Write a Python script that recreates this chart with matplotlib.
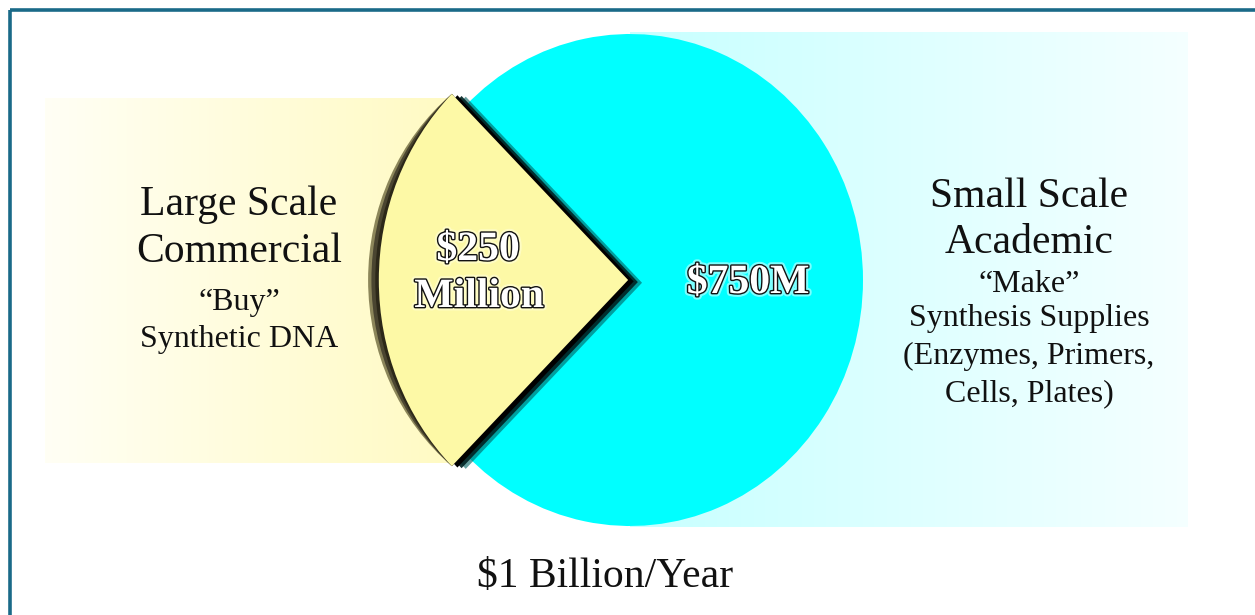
import matplotlib.pyplot as plt
import matplotlib.patheffects as pe
from matplotlib.patches import Rectangle, Wedge
import numpy as np

# market split, $ millions per year
segments = ['Large Scale Commercial', 'Small Scale Academic']
values = [250, 750]
colors = ['#fdf9a6', '#00ffff']
total_label = '$1 Billion/Year'

left_lines = ['Large Scale', 'Commercial', '\u201cBuy\u201d', 'Synthetic DNA']
right_lines = ['Small Scale', 'Academic', '\u201cMake\u201d', 'Synthesis Supplies',
               '(Enzymes, Primers,', 'Cells, Plates)']

W, H = 1255, 615
fig = plt.figure(figsize=(W / 100, H / 100), dpi=100)
plt.rcParams['font.family'] = ['Liberation Serif', 'DejaVu Serif']


def pixel_axes(z):
    ax = fig.add_axes([0, 0, 1, 1], zorder=z)
    ax.set_xlim(0, W)
    ax.set_ylim(H, 0)
    ax.axis('off')
    ax.patch.set_alpha(0)
    return ax


# background layer: soft gradient panels behind each side
bg = pixel_axes(0)
g = np.linspace(0, 1, 256).reshape(1, -1)
yellow_grad = np.zeros((1, 256, 3))
yellow_grad[..., 0] = 1.0
yellow_grad[..., 1] = 1.0 - 0.02 * g
yellow_grad[..., 2] = 0.96 - 0.20 * g
bg.imshow(yellow_grad, extent=(45, 462, 463, 98), aspect='auto')

cyan_grad = np.zeros((1, 256, 3))
cyan_grad[..., 0] = 0.78 + 0.18 * g
cyan_grad[..., 1] = 1.0
cyan_grad[..., 2] = 1.0
bg.imshow(cyan_grad, extent=(630, 1188, 527, 32), aspect='auto')

# pie, slightly squeezed horizontally
cx, cy, rx, ry = 630, 280, 233, 246
pie_ax = fig.add_axes([(cx - rx) / W, (H - cy - ry) / H, 2 * rx / W, 2 * ry / H], zorder=1)
pie_ax.patch.set_alpha(0)
wedges, _ = pie_ax.pie(values, colors=colors, startangle=135, counterclock=True,
                       radius=1.0, wedgeprops=dict(linewidth=0))
pie_ax.set_xlim(-1, 1)
pie_ax.set_ylim(-1, 1)
pie_ax.set_aspect('auto')
pie_ax.axis('off')
for w in wedges:
    w.set_clip_on(False)

small = wedges[0]
small.set_radius(1.07)
small.set_center((-0.008, 0))
small.set_zorder(3)
small.set_path_effects([
    pe.SimplePatchShadow(offset=(10, -2), shadow_rgbFace='#006060', alpha=0.6),
    pe.SimplePatchShadow(offset=(7, -1.5), shadow_rgbFace='#002222', alpha=0.9),
    pe.SimplePatchShadow(offset=(4, -1), shadow_rgbFace='black', alpha=1.0),
    pe.Normal(),
])

# rim under the curved edge: same corners, bulging further out
r0 = small.r
(sx, sy) = small.center
half = np.radians((small.theta2 - small.theta1) / 2)
mid = (small.theta1 + small.theta2) / 2
for shift, col in [(0.14, '#8c865a'), (0.10, '#4a4530'), (0.05, '#2c2818')]:
    rim_r = np.hypot(r0 * np.cos(half) - shift, r0 * np.sin(half))
    rim_half = np.degrees(np.arctan2(r0 * np.sin(half), r0 * np.cos(half) - shift))
    pie_ax.add_patch(Wedge((sx - shift, sy), rim_r, mid - rim_half, mid + rim_half,
                           facecolor=col, edgecolor='none', zorder=2.5, clip_on=False))

# top layer: labels and frame
top = pixel_axes(2)
top.add_patch(Rectangle((9.5, 9.5), W + 20, H + 20, fill=False,
                        edgecolor='#1a6a88', lw=2.6))


def outlined(glow):
    return [pe.withStroke(linewidth=5, foreground=glow),
            pe.withStroke(linewidth=2.0, foreground='#111111')]


top.text(478, 260, f'${values[0]}', ha='center', va='baseline', fontsize=30,
         fontweight='bold', color='white', path_effects=outlined((1, 1, 0.85, 0.6)))
top.text(479, 307, 'Million', ha='center', va='baseline', fontsize=30,
         fontweight='bold', color='white', path_effects=outlined((1, 1, 0.85, 0.6)))
top.text(748, 293, f'${values[1]}M', ha='center', va='baseline', fontsize=30,
         fontweight='bold', color='white', path_effects=outlined((0.7, 1, 1, 0.7)))

# side descriptions
left_base = [215, 262, 310, 347]
left_size = [30, 30, 23, 23]
for txt, yb, fs in zip(left_lines, left_base, left_size):
    top.text(239, yb, txt, ha='center', va='baseline', fontsize=fs, color='#111111')

right_base = [207, 253, 292, 326, 364, 401]
right_size = [30, 30, 23, 23, 23, 23]
for txt, yb, fs in zip(right_lines, right_base, right_size):
    top.text(1029, yb, txt, ha='center', va='baseline', fontsize=fs, color='#111111')

top.text(605, 587, total_label, ha='center', va='baseline', fontsize=30, color='#111111')

fig.savefig('out.png', dpi=100)
